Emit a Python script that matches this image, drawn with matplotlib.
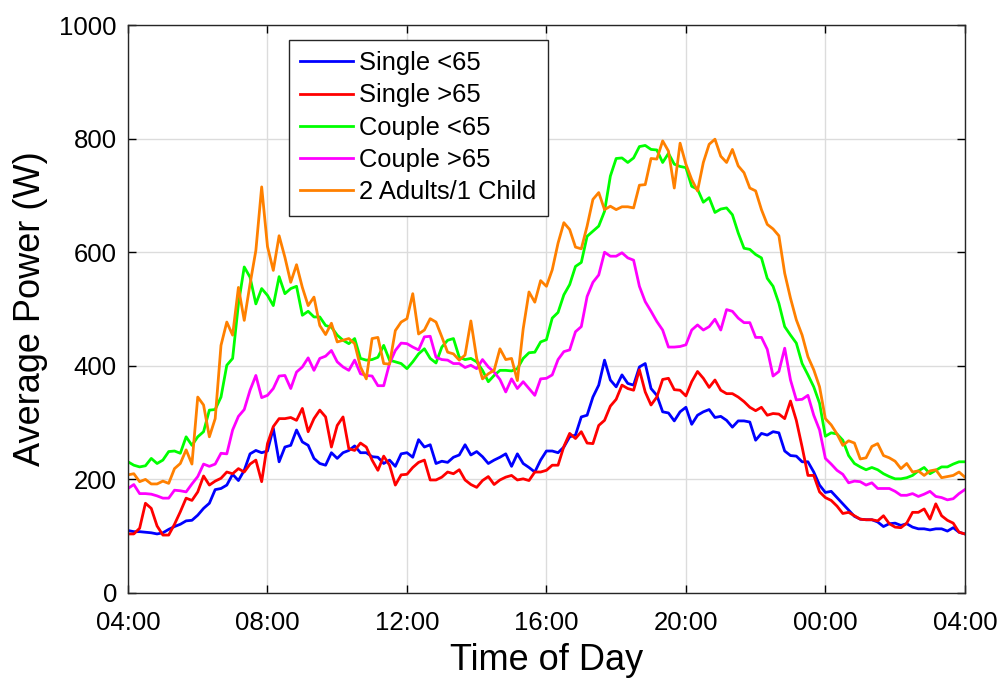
import numpy as np
import matplotlib
matplotlib.use("Agg")
import matplotlib.pyplot as plt

plt.rcParams['font.family'] = ['Liberation Sans', 'DejaVu Sans']

# 10-minute averages, 04:00 -> 04:00 next day (145 points)
single_u65 = [110, 108, 108, 107, 106, 104, 106, 112, 117, 121, 127, 128, 137, 149, 158, 182, 184, 190, 209, 198,
              216, 245, 251, 247, 250, 290, 231, 257, 260, 287, 266, 260, 237, 228, 225, 247, 237, 247, 251, 259,
              247, 247, 240, 239, 228, 234, 223, 245, 247, 239, 270, 257, 261, 228, 232, 230, 239, 243, 261, 243,
              249, 240, 228, 234, 239, 245, 223, 245, 228, 221, 213, 234, 250, 250, 247, 257, 275, 278, 310, 313,
              345, 366, 410, 375, 363, 384, 369, 366, 398, 404, 360, 348, 319, 317, 303, 319, 327, 297, 313, 319,
              323, 309, 311, 304, 292, 303, 303, 301, 269, 281, 278, 284, 282, 250, 242, 241, 231, 231, 213, 190,
              177, 179, 168, 157, 146, 135, 130, 129, 129, 125, 117, 122, 123, 119, 122, 116, 113, 113, 111, 113,
              113, 109, 115, 107, 104]
single_o65 = [104, 104, 114, 158, 149, 118, 102, 102, 121, 143, 167, 163, 178, 206, 190, 197, 202, 213, 210, 219,
              213, 227, 234, 196, 263, 293, 307, 307, 309, 304, 325, 284, 307, 322, 310, 257, 295, 310, 254, 251,
              264, 257, 234, 216, 241, 225, 190, 208, 209, 221, 230, 234, 199, 199, 204, 213, 210, 217, 199, 191,
              186, 198, 205, 191, 199, 204, 207, 199, 201, 198, 213, 213, 216, 225, 225, 258, 281, 272, 284, 264,
              263, 295, 304, 329, 341, 366, 360, 357, 393, 354, 331, 345, 376, 378, 358, 357, 347, 372, 390, 378,
              362, 375, 357, 351, 351, 345, 337, 327, 321, 327, 313, 316, 315, 307, 338, 304, 257, 207, 207, 178,
              168, 163, 153, 140, 142, 136, 130, 129, 129, 127, 136, 122, 116, 115, 123, 142, 142, 148, 130, 157,
              136, 128, 123, 107, 104]
couple_u65 = [231, 225, 222, 224, 237, 228, 234, 249, 250, 246, 275, 260, 275, 284, 322, 323, 345, 401, 413, 509,
              574, 556, 509, 536, 524, 506, 557, 527, 536, 540, 489, 496, 486, 486, 471, 468, 454, 445, 439, 448,
              413, 410, 411, 415, 436, 410, 407, 404, 395, 407, 421, 430, 413, 405, 433, 445, 448, 415, 411, 413,
              407, 392, 372, 383, 392, 392, 391, 395, 413, 423, 424, 442, 446, 484, 494, 525, 543, 575, 582, 628,
              637, 646, 672, 734, 765, 766, 758, 766, 786, 788, 781, 780, 758, 774, 755, 751, 749, 716, 711, 688,
              696, 670, 676, 678, 666, 634, 607, 605, 596, 590, 554, 540, 510, 469, 454, 440, 404, 384, 363, 334,
              276, 282, 280, 269, 242, 228, 222, 217, 221, 217, 210, 205, 201, 201, 203, 207, 215, 221, 210, 216,
              222, 222, 227, 231, 231]
couple_o65 = [184, 191, 175, 175, 174, 171, 167, 167, 181, 180, 178, 192, 205, 227, 223, 227, 246, 245, 287, 311,
              323, 357, 383, 344, 348, 360, 382, 383, 360, 389, 398, 414, 392, 413, 417, 427, 407, 398, 392, 410,
              386, 383, 382, 365, 365, 404, 427, 440, 439, 433, 428, 451, 452, 415, 411, 410, 404, 404, 397, 401,
              395, 411, 398, 389, 376, 354, 377, 360, 372, 360, 348, 377, 378, 384, 411, 425, 428, 460, 469, 522,
              547, 560, 600, 593, 593, 599, 590, 586, 540, 513, 496, 478, 463, 433, 433, 434, 437, 463, 472, 463,
              469, 482, 463, 499, 496, 484, 476, 476, 450, 450, 429, 382, 390, 431, 375, 340, 341, 348, 313, 287,
              237, 227, 216, 209, 194, 197, 196, 190, 194, 184, 184, 184, 179, 172, 172, 175, 170, 174, 179, 170,
              168, 164, 166, 175, 182]
adults_child = [208, 210, 196, 200, 192, 192, 197, 193, 219, 228, 252, 227, 345, 331, 275, 307, 436, 477, 454, 538,
                480, 544, 603, 715, 610, 568, 629, 591, 547, 578, 538, 506, 521, 471, 455, 475, 442, 445, 448, 439,
                398, 377, 448, 450, 404, 403, 462, 477, 483, 527, 456, 463, 483, 477, 451, 424, 421, 410, 419, 479,
                413, 377, 386, 392, 430, 411, 413, 374, 465, 530, 512, 550, 540, 569, 616, 652, 640, 609, 606, 646,
                693, 705, 675, 681, 675, 680, 680, 678, 718, 719, 765, 764, 796, 778, 713, 792, 755, 728, 708, 758,
                790, 799, 769, 758, 781, 752, 740, 713, 708, 675, 649, 641, 629, 563, 519, 481, 454, 416, 393, 363,
                307, 296, 280, 260, 268, 264, 236, 238, 258, 263, 242, 238, 232, 219, 228, 213, 215, 207, 215, 217,
                203, 205, 207, 213, 204]

labels = ['Single <65', 'Single >65', 'Couple <65', 'Couple >65', '2 Adults/1 Child']
colors = ['#0000FF', '#FF0000', '#00FF00', '#FF00FF', '#FF8000']
tick_labels = ['04:00', '08:00', '12:00', '16:00', '20:00', '00:00', '04:00']

hours = 4 + np.arange(len(single_u65)) / 6.0   # 10 min steps

fig = plt.figure(figsize=(10.04, 6.82), dpi=100)
ax = fig.add_axes([0.1275, 0.1305, 0.8335, 0.8328])

series = [single_u65, single_o65, couple_u65, couple_o65, adults_child]
for vals, lab, c in zip(series, labels, colors):
    ax.plot(hours, vals, color=c, lw=2, label=lab)

ax.set_xlim(4, 28)
ax.set_ylim(0, 1000)
ax.set_xticks(np.arange(4, 29, 4))
ax.set_xticklabels(tick_labels)
ax.set_yticks(np.arange(0, 1001, 200))
ax.tick_params(direction='in', top=True, right=True, labelsize=18.5, length=6, width=1, pad=8)
ax.tick_params(axis='x', pad=13)
ax.grid(True, color='#DCDCDC', lw=1)
ax.set_axisbelow(True)
for s in ax.spines.values():
    s.set_color('#262626')
    s.set_linewidth(1)

ax.set_xlabel('Time of Day', fontsize=26, labelpad=6)
ax.set_ylabel('Average Power (W)', fontsize=26, labelpad=8)

leg = ax.legend(loc='upper left', bbox_to_anchor=(0.192, 0.974), borderaxespad=0, fontsize=18.4,
                frameon=True, fancybox=False, framealpha=1, edgecolor='#262626', handlelength=2.05,
                borderpad=0.45, labelspacing=0.32, handletextpad=0.25)
leg.get_frame().set_linewidth(1)

fig.savefig('out.png', dpi=100)
